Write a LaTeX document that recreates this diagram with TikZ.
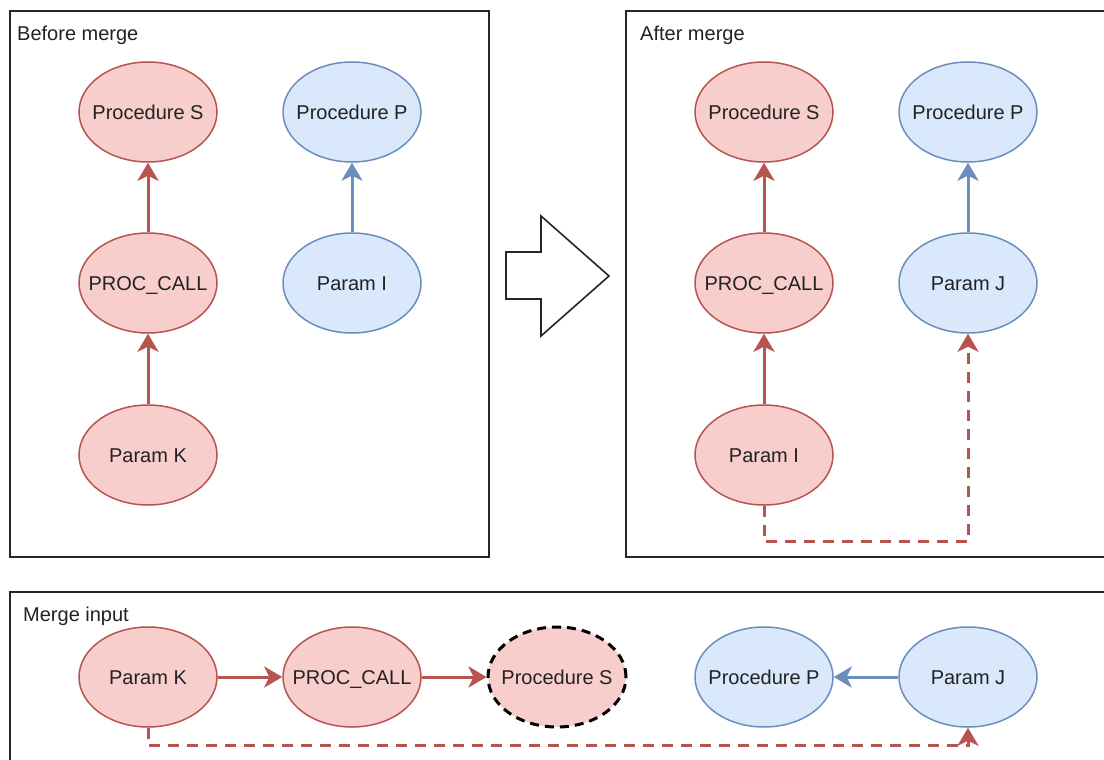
\documentclass[tikz,border=0pt]{standalone}
\usepackage{fontspec}
\setmainfont{Liberation Sans}
\usetikzlibrary{arrows.meta,shapes.geometric}
\definecolor{redline}{HTML}{B85450}
\definecolor{redfill}{HTML}{F8CECC}
\definecolor{blueline}{HTML}{6C8EBF}
\definecolor{bluefill}{HTML}{DAE8FC}
\definecolor{txt}{HTML}{222222}
\newcommand{\nolabelwidth}[1]{\makebox[0pt][c]{#1}}
\tikzset{
  frame/.style={draw=black!85, line width=1.8pt},
  framelabel/.style={anchor=west, inner sep=0pt, text=txt, font=\fontsize{20}{22}\selectfont},
  node/.style={ellipse, minimum width=138pt, minimum height=100pt, inner sep=0pt,
    text height=15pt, text depth=0pt, line width=1.5pt, text=txt, font=\fontsize{20}{22}\selectfont},
  rednode/.style={node, draw=redline, fill=redfill},
  bluenode/.style={node, draw=blueline, fill=bluefill},
  redarrow/.style={draw=redline, line width=3pt, -{Stealth[length=18pt, width=21pt, inset=5pt]}},
  bluearrow/.style={draw=blueline, line width=3pt, -{Stealth[length=18pt, width=21pt, inset=5pt]}},
  reddash/.style={redarrow, dash pattern=on 11pt off 8pt},
}
\begin{document}
\begin{tikzpicture}[x=1pt, y=-1pt]
\useasboundingbox (0,0) rectangle (1104,760);
\fill[white] (0,0) rectangle (1104,760);

% frames
\draw[frame] (10,11) rectangle (489,557);
\draw[frame] (626,11) rectangle (1110,557);
\draw[frame] (10,592) rectangle (1110,770);
\node[framelabel] (lblbefore) at (17,35) {Before merge};
\node[framelabel] (lblafter) at (640,35) {After merge};
\node[framelabel] (lblinput) at (23,616) {Merge input};

% before merge
\node[rednode] (bs) at (148,112) {\nolabelwidth{Procedure S}};
\node[rednode] (bc) at (148,283) {\nolabelwidth{PROC\_CALL}};
\node[rednode] (bk) at (148,455) {\nolabelwidth{Param K}};
\node[bluenode] (bp) at (352,112) {\nolabelwidth{Procedure P}};
\node[bluenode] (bi) at (352,283) {\nolabelwidth{Param I}};
\draw[redarrow] (bc) -- (bs);
\draw[redarrow] (bk) -- (bc);
\draw[bluearrow] (bi) -- (bp);

% transition arrow
\draw[black!85, line width=1.6pt, line join=miter]
  (506,252) -- (541,252) -- (541,216) -- (609,276) -- (541,336) -- (541,299) -- (506,299) -- cycle;

% after merge
\node[rednode] (as) at (764,112) {\nolabelwidth{Procedure S}};
\node[rednode] (ac) at (764,283) {\nolabelwidth{PROC\_CALL}};
\node[rednode] (ai) at (764,455) {\nolabelwidth{Param I}};
\node[bluenode] (ap) at (968,112) {\nolabelwidth{Procedure P}};
\node[bluenode] (aj) at (968,283) {\nolabelwidth{Param J}};
\draw[redarrow] (ac) -- (as);
\draw[redarrow] (ai) -- (ac);
\draw[bluearrow] (aj) -- (ap);
\draw[reddash] (ai.south) -- ++(0,36) -| (aj.south);

% merge input
\node[rednode] (mk) at (148,677) {\nolabelwidth{Param K}};
\node[rednode] (mc) at (352,677) {\nolabelwidth{PROC\_CALL}};
\node[rednode, draw=black, line width=3pt, dash pattern=on 9pt off 6pt] (ms) at (557,677) {\nolabelwidth{Procedure S}};
\node[bluenode] (mp) at (764,677) {\nolabelwidth{Procedure P}};
\node[bluenode] (mj) at (968,677) {\nolabelwidth{Param J}};
\draw[redarrow] (mk) -- (mc);
\draw[redarrow] (mc) -- (ms);
\draw[bluearrow] (mj) -- (mp);
\draw[reddash] (mk.south) -- ++(0,18) -| (mj.south);
\end{tikzpicture}
\end{document}
